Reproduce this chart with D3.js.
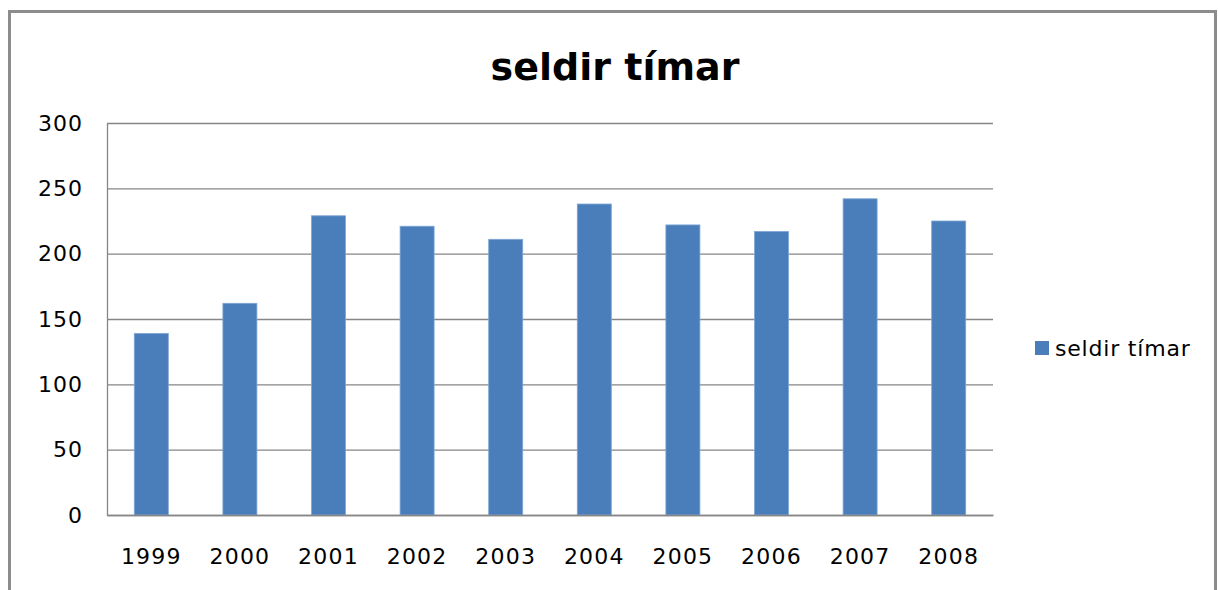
<!DOCTYPE html>
<html>
<head>
<meta charset="utf-8">
<script src="https://cdn.jsdelivr.net/npm/d3@7"></script>
<style>
  body { margin: 0; background: #fff; }
  text { font-family: "Century Gothic", "DejaVu Sans", sans-serif; }
</style>
</head>
<body>
<script>
// chart data
var years = ["1999", "2000", "2001", "2002", "2003", "2004", "2005", "2006", "2007", "2008"];
var hours = [139, 162, 229, 221, 211, 238, 222, 217, 242, 225];
var yTicks = [0, 50, 100, 150, 200, 250, 300];
var seriesName = "seldir tímar";

var W = 1218, H = 590;
var margin = {top: 123, left: 107},
    width = 886,
    height = 392;

var svg = d3.select("body").append("svg")
    .attr("width", W)
    .attr("height", H);

// outer frame (runs past the bottom edge)
svg.append("rect")
    .attr("x", 9.5).attr("y", 11.5)
    .attr("width", 1206).attr("height", 640)
    .attr("fill", "none")
    .attr("stroke", "#8c8c8c")
    .attr("stroke-width", 3);

// title
svg.append("text")
    .attr("x", 615).attr("y", 80)
    .attr("text-anchor", "middle")
    .style("font-size", "38px")
    .style("font-weight", "bold")
    .text(seriesName);

var g = svg.append("g")
    .attr("transform", "translate(" + margin.left + "," + margin.top + ")");

var x = d3.scaleBand().domain(years).range([0, width]).paddingInner(0.616).paddingOuter(0.308);
var y = d3.scaleLinear().domain([0, 300]).range([height, 0]);

// gridlines
g.selectAll(".grid")
    .data(yTicks)
  .enter().append("line")
    .attr("x1", 0).attr("x2", width)
    .attr("y1", function(d) { return y(d) + 0.5; })
    .attr("y2", function(d) { return y(d) + 0.5; })
    .attr("stroke", "#868686")
    .attr("stroke-width", 1.3);

// bars
g.selectAll(".bar")
    .data(years)
  .enter().append("rect")
    .attr("x", function(d) { return x(d); })
    .attr("width", x.bandwidth())
    .attr("y", function(d, i) { return y(hours[i]); })
    .attr("height", function(d, i) { return height - y(hours[i]); })
    .attr("fill", "#4a7ebb")
    .attr("stroke", "#7fa6d6")
    .attr("stroke-width", 0.8);

// y axis
var yAxis = g.append("g")
    .call(d3.axisLeft(y).tickValues(yTicks).tickSize(0).tickPadding(24));
yAxis.select(".domain").attr("stroke", "#868686").attr("stroke-width", 1.3);
yAxis.selectAll("text")
    .style("font-size", "22px")
    .style("letter-spacing", "1px")
    .attr("fill", "#000");

// x axis
var xAxis = g.append("g")
    .attr("transform", "translate(0," + height + ")")
    .call(d3.axisBottom(x).tickSize(0).tickPadding(33));
xAxis.select(".domain").attr("stroke", "#868686").attr("stroke-width", 1.3);
xAxis.selectAll("text")
    .style("font-size", "22px")
    .style("letter-spacing", "1.2px")
    .attr("fill", "#000");

// legend
var legend = svg.append("g").attr("transform", "translate(1035,341)");
legend.append("rect")
    .attr("width", 14).attr("height", 14)
    .attr("fill", "#4a7ebb");
legend.append("text")
    .attr("x", 20).attr("y", 7)
    .attr("dy", "0.35em")
    .style("font-size", "22px")
    .style("letter-spacing", "0.8px")
    .text(seriesName);
</script>
</body>
</html>
